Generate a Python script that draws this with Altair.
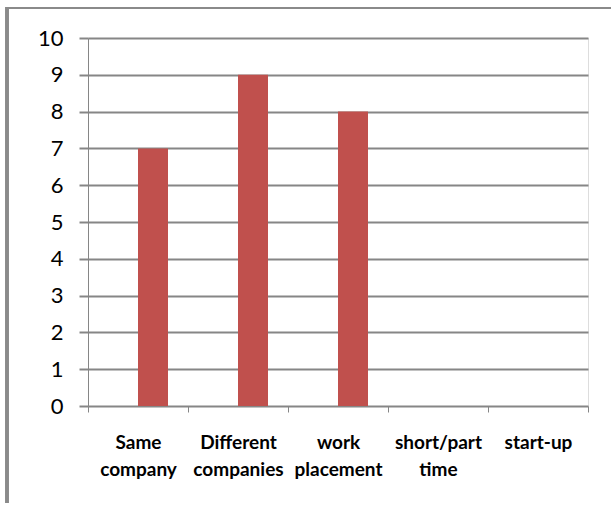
import altair as alt
import pandas as pd

# Categories and counts
categories = ["Same company", "Different companies", "work placement", "short/part time", "start-up"]
counts = [7, 9, 8, 0, 0]

df = pd.DataFrame({"category": categories, "count": counts})

GRID = "#868686"
BAR = "#C0504D"

x = alt.X(
    "category:N",
    sort=categories,
    title=None,
    scale=alt.Scale(paddingInner=0, paddingOuter=0),
    axis=alt.Axis(
        labelAngle=0,
        labelExpr="split(datum.label, ' ')",
        labelFont="Lato",
        labelFontWeight="bold",
        labelFontSize=19,
        labelLineHeight=27,
        labelColor="#000000",
        labelPadding=21,
        tickBand="extent",
        tickColor=GRID,
        tickWidth=1,
        tickSize=6,
        domain=False,
        grid=False,
    ),
)

y = alt.Y(
    "count:Q",
    title=None,
    scale=alt.Scale(domain=[0, 10], nice=False),
    axis=alt.Axis(
        values=list(range(0, 11)),
        labelFont="Lato",
        labelFontSize=22,
        labelColor="#000000",
        labelPadding=16,
        tickColor=GRID,
        tickWidth=2,
        tickSize=9,
        gridColor=GRID,
        gridWidth=2,
        domainColor=GRID,
        domainWidth=1,
    ),
)

bars = alt.Chart(df).mark_bar(color=BAR, size=30, xOffset=15).encode(x=x, y=y)

# Outer frame of the chart (left and top edges)
frame_left = alt.Chart(df).mark_rule(color="#8a8a8a", strokeWidth=3).encode(
    x=alt.value(-81), y=alt.value(-31), y2=alt.value(465)
)
frame_top = alt.Chart(df).mark_rule(color="#8a8a8a", strokeWidth=2).encode(
    x=alt.value(-82), x2=alt.value(523), y=alt.value(-30)
)

chart = (
    alt.layer(bars, frame_left, frame_top)
    .properties(
        width=500,
        height=368,
        autosize=alt.AutoSizeParams(type="none"),
        padding={"left": 88, "top": 38, "right": 23, "bottom": 100},
    )
    .configure_view(stroke=None)
    .configure(background="white")
)

chart.save("out.html", embed_options={"renderer": "svg", "actions": False})
